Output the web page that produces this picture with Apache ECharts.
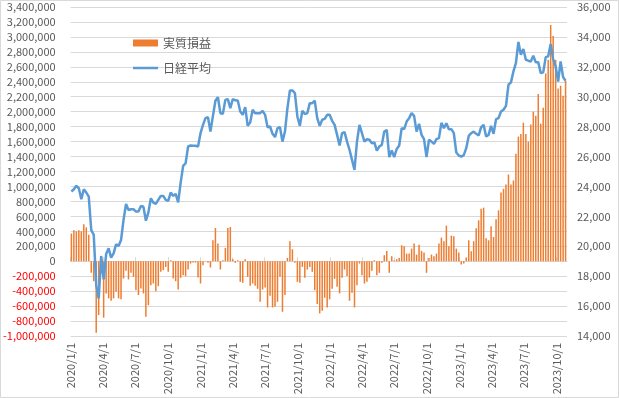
<!DOCTYPE html>
<html>
<head>
<meta charset="utf-8">
<script src="https://cdn.jsdelivr.net/npm/echarts@6/dist/echarts.min.js"></script>
<style>
  html, body { margin: 0; padding: 0; background: #fff; }
  #chart { width: 619px; height: 398px; }
</style>
</head>
<body>
<div id="chart"></div>
<script>
// weekly closes starting from the first week of 2020
let startWeek = [2020, 0, 3];
let weekCount = 200;

let quarterLabels = ['2020/1/1', '2020/4/1', '2020/7/1', '2020/10/1', '2021/1/1', '2021/4/1', '2021/7/1', '2021/10/1',
  '2022/1/1', '2022/4/1', '2022/7/1', '2022/10/1', '2023/1/1', '2023/4/1', '2023/7/1', '2023/10/1'];

// 実質損益 (weekly)
let pnl = [
  370000, 413000, 400000, 413000, 400000, 493000, 453000, 355000, -155000, -267000,
  -955000, -720000, -165000, -755000, -431000, -497000, -529000, -497000, -409000, -497000,
  -510000, -231000, -129000, -244000, -155000, -209000, -387000, -453000, -364000, -431000,
  -742000, -587000, -320000, -298000, -400000, -333000, -142000, -120000, -76000, -142000,
  13000, -231000, -267000, -378000, -222000, -187000, -200000, -111000, -31000, -18000,
  -18000, -218000, -298000, -53000, 4000, -22000, -84000, 280000, 444000, 236000,
  -111000, 13000, 178000, 444000, 458000, 27000, -22000, 13000, -276000, -289000,
  27000, -209000, -329000, -298000, -329000, -369000, -542000, -378000, -351000, -618000,
  -462000, -618000, -609000, -542000, -209000, -676000, -453000, 44000, 267000, 160000,
  -22000, -276000, -289000, -76000, -222000, -111000, -76000, -142000, -387000, -573000,
  -698000, -662000, -489000, -618000, -510000, -369000, -236000, -342000, -431000, -222000,
  -111000, -196000, -529000, -422000, -618000, -320000, -31000, -187000, -298000, -276000,
  -218000, -129000, 13000, -187000, -155000, -22000, 80000, 138000, -155000, 67000,
  10000, 27000, 44000, 213000, 200000, 102000, 102000, 169000, 236000, 89000,
  222000, 138000, 116000, -155000, 44000, 89000, 67000, 102000, 236000, 316000,
  267000, 476000, 200000, 342000, 333000, 169000, 116000, -44000, -31000, 49000,
  280000, 133000, 267000, 440000, 547000, 702000, 716000, 307000, 280000, 467000,
  324000, 560000, 680000, 920000, 969000, 1027000, 1160000, 1027000, 1080000, 1436000,
  1667000, 1702000, 1853000, 1702000, 1600000, 1827000, 2000000, 1947000, 2236000, 1840000,
  2053000, 2511000, 2693000, 3160000, 3013000, 2693000, 2311000, 2347000, 2213000, 2413000
];

// 日経平均 (weekly close)
let nikkei = [
  23660, 23810, 24040, 23880, 23140, 23810, 23590, 23320, 21090, 20760,
  17410, 16510, 19350, 17780, 19480, 19860, 19240, 19530, 20130, 20020,
  20420, 21760, 22830, 22430, 22480, 22480, 22320, 22320, 22700, 22650,
  21710, 22250, 23210, 22920, 22830, 23100, 23370, 23370, 23100, 23030,
  23590, 23370, 23500, 22940, 24260, 25370, 25550, 26670, 26740, 26720,
  26720, 26670, 27560, 28120, 28570, 28630, 27670, 28720, 29730, 29970,
  28900, 28860, 29790, 29840, 29240, 29840, 29760, 29750, 29010, 28790,
  29300, 28050, 28280, 29130, 28900, 28900, 28900, 29060, 28790, 27960,
  28010, 27520, 27300, 27900, 27960, 27000, 27670, 29240, 30420, 30420,
  30240, 28680, 28050, 29060, 28840, 28900, 29570, 29570, 29730, 28570,
  28050, 28460, 28520, 28790, 28790, 28390, 28120, 27450, 26740, 27560,
  27630, 27000, 26450, 25780, 25110, 27000, 28120, 27560, 27000, 27160,
  27120, 26890, 26940, 26400, 26670, 26780, 27670, 27780, 25960, 26400,
  25960, 26510, 26740, 27900, 27830, 28340, 28570, 28900, 28720, 27670,
  28190, 27450, 27160, 25960, 27120, 27000, 26850, 27160, 27230, 28250,
  27900, 28230, 27830, 27830, 27560, 26270, 26070, 26000, 26090, 26560,
  27380, 27560, 27670, 27520, 27410, 27960, 28120, 27340, 27450, 28050,
  27520, 28500, 28570, 29010, 29130, 29390, 30800, 30960, 31690, 32250,
  33660, 32810, 33190, 32470, 32410, 32360, 32740, 32300, 32300, 31580,
  31630, 32650, 32700, 33520, 32520, 32030, 31020, 32360, 31310, 31070
];

let weeks = [];
for (let i = 0; i < weekCount; i++)
  weeks.push(+new Date(startWeek[0], startWeek[1], startWeek[2] + 7 * i));

let quarterTicks = quarterLabels.map(s => {
  let p = s.split('/');
  return +new Date(+p[0], +p[1] - 1, +p[2]);
});

let axisMin = +new Date(2020, 0, 1);
let axisMax = +new Date(2023, 9, 31);

let font = '"Noto Sans CJK JP", "Noto Sans", sans-serif';
let textGray = '#595959';
let gridGray = '#d9d9d9';

function fmtDate(v) {
  let d = new Date(v);
  return d.getFullYear() + '/' + (d.getMonth() + 1) + '/' + d.getDate();
}

let chart = echarts.init(document.getElementById('chart'));

let options = {
  animation: false,
  textStyle: { fontFamily: font },
  graphic: [{
    type: 'rect',
    shape: { x: 0.5, y: 0.5, width: 618, height: 397 },
    style: { fill: 'none', stroke: gridGray, lineWidth: 1 },
    silent: true
  }],
  grid: { left: 68, right: 52, top: 7, bottom: 62 },
  legend: {
    orient: 'vertical',
    left: 133,
    top: 37,
    padding: 0,
    itemWidth: 25,
    itemHeight: 7,
    itemGap: 13,
    textStyle: { color: textGray, fontSize: 12, fontFamily: font },
    data: [
      { name: '実質損益', icon: 'rect' },
      { name: '日経平均', icon: 'path://M0,0L25,0L25,2.5L0,2.5Z' }
    ]
  },
  xAxis: [
    {
      type: 'value',
      min: axisMin,
      max: axisMax,
      axisLine: { show: false, onZero: false },
      axisTick: { show: false },
      splitLine: { show: false },
      axisLabel: {
        customValues: quarterTicks,
        rotate: 90,
        margin: 7,
        color: textGray,
        fontSize: 11,
        fontFamily: font,
        hideOverlap: false,
        formatter: fmtDate
      }
    },
    {
      type: 'value',
      min: axisMin,
      max: axisMax,
      axisLine: { show: true, onZero: true, lineStyle: { color: gridGray, width: 1 } },
      axisTick: { show: true, customValues: quarterTicks, length: 4, lineStyle: { color: gridGray } },
      axisLabel: { show: false },
      splitLine: { show: false }
    }
  ],
  yAxis: [
    {
      type: 'value',
      min: -1000000,
      max: 3400000,
      interval: 200000,
      axisLine: { show: false },
      axisTick: { show: false },
      splitLine: { lineStyle: { color: gridGray, width: 1 } },
      axisLabel: {
        margin: 15,
        fontSize: 11,
        fontFamily: font,
        color: v => (v < 0 ? '#ff0000' : textGray),
        formatter: v => v.toLocaleString('en-US')
      }
    },
    {
      type: 'value',
      position: 'right',
      min: 14000,
      max: 36000,
      interval: 2000,
      axisLine: { show: false },
      axisTick: { show: false },
      splitLine: { show: false },
      axisLabel: {
        margin: 10,
        fontSize: 11,
        fontFamily: font,
        color: textGray,
        formatter: v => v.toLocaleString('en-US')
      }
    }
  ],
  series: [
    {
      name: '実質損益',
      type: 'bar',
      yAxisIndex: 0,
      barWidth: 1.5,
      itemStyle: { color: '#ed7d31' },
      data: weeks.map((w, i) => [w, pnl[i]]),
      z: 2
    },
    {
      name: '日経平均',
      type: 'line',
      yAxisIndex: 1,
      symbol: 'none',
      lineStyle: { color: '#5b9bd5', width: 2.5 },
      itemStyle: { color: '#5b9bd5' },
      data: weeks.map((w, i) => [w, nikkei[i]]),
      z: 3
    }
  ]
};

chart.setOption(options);
</script>
</body>
</html>
